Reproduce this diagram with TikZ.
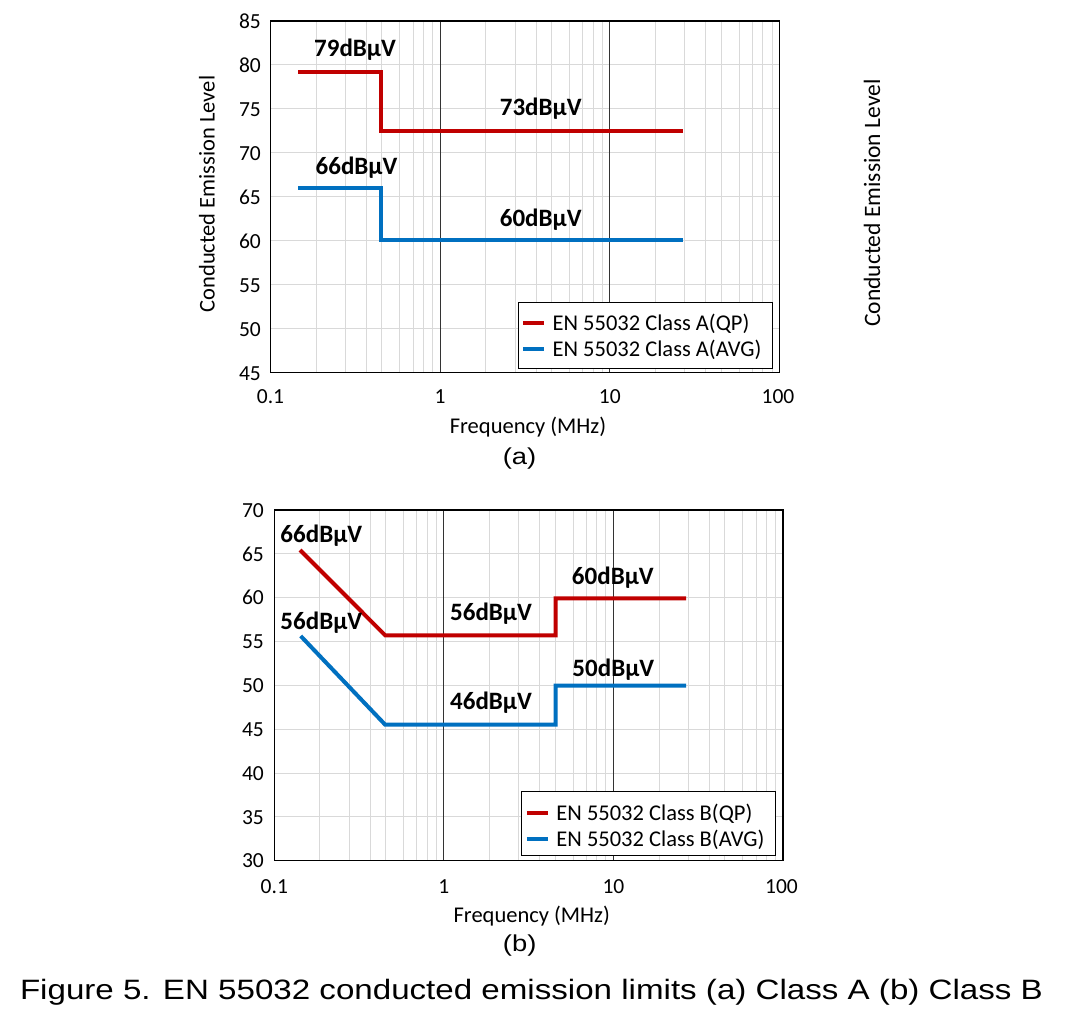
\documentclass[tikz,border=0pt]{standalone}
\usepackage{fontspec}
\usepackage{graphicx}
\setmainfont{Carlito}
\newfontfamily\arialf{Liberation Sans}
\definecolor{gridgray}{HTML}{D9D9D9}
\definecolor{qpred}{HTML}{C00000}
\definecolor{avgblue}{HTML}{0070C0}
\tikzset{
  gridline/.style={draw=gridgray, line width=1pt},
  majorline/.style={draw=black!80, line width=0.9pt},
  frameline/.style={draw=black, line width=1.4pt},
  qpline/.style={draw=qpred, line width=4pt},
  avgline/.style={draw=avgblue, line width=4pt},
  legbox/.style={draw=black, fill=white, line width=1pt},
  ticklab/.style={font=\fontsize{21.5}{24}\selectfont, inner sep=0pt},
  dlabel/.style={font=\fontsize{25}{28}\selectfont\bfseries, inner sep=0pt, anchor=base},
  legtext/.style={font=\fontsize{22.5}{26}\selectfont, inner sep=0pt, anchor=base west},
  axtitle/.style={font=\fontsize{22.5}{26}\selectfont, inner sep=0pt, anchor=base},
  sublab/.style={inner sep=0pt, anchor=base},
}
\begin{document}
\begin{tikzpicture}[x=1pt,y=-1pt]
\useasboundingbox[fill=white] (0,0) rectangle (1079,1031);

% ================= Chart (a) =================
% vertical minor grid
\foreach \d in {0,1,2}
  \foreach \f in {0.269,0.442,0.566,0.656,0.762,0.841,0.902,0.956}
    \draw[gridline] ({270.5+(\d+\f)*169.67},21) -- ++(0,351.7);
% horizontal grid
\foreach \v in {50,55,...,80}
  \draw[gridline] (270.5,{21+(85-\v)*8.7925}) -- (779.5,{21+(85-\v)*8.7925});
% major verticals
\draw[majorline] (440.17,21) -- (440.17,372.7);
\draw[majorline] (609.84,21) -- (609.84,372.7);
% data
\draw[qpline] (298.3,71.7) -- (381.2,71.7) -- (381.2,130.7) -- (682.5,130.7);
\draw[avgline] (298.3,187.7) -- (381.2,187.7) -- (381.2,240.3) -- (682.5,240.3);
% frame
\draw[frameline] (270.5,21) rectangle (779.5,372.7);
% legend
\draw[legbox] (518,302.5) rectangle (772,368);
\draw[qpline] (523,323.3) -- (544,323.3);
\draw[avgline] (523,349.3) -- (544,349.3);
\node[legtext] (legaqp) at (552.4,330.7) {EN 55032 Class A(QP)};
\node[legtext] (legaavg) at (552.4,356.7) {EN 55032 Class A(AVG)};
% data labels
\node[dlabel] (a79) at (355,56.7) {79dBµV};
\node[dlabel] (a73) at (540.7,115.3) {73dBµV};
\node[dlabel] (a66) at (356.5,174.3) {66dBµV};
\node[dlabel] (a60) at (540.7,226) {60dBµV};
% y tick labels
\foreach \v in {45,50,...,85}
  \node[ticklab, anchor=base east] (ya\v) at (261,{21+(85-\v)*8.7925+7.8}) {\v};
% x tick labels
\node[ticklab, anchor=base] (xa1) at (270.5,403.3) {0.1};
\node[ticklab, anchor=base] (xa2) at (440.17,403.3) {1};
\node[ticklab, anchor=base] (xa3) at (609.84,403.3) {10};
\node[ticklab, anchor=base] (xa4) at (778,403.3) {100};
% axis titles
\node[axtitle] (fa) at (528,433.3) {Frequency (MHz)};
\node[axtitle, rotate=90] (ceal) at (214.5,194) {Conducted Emission Level};
\node[axtitle, rotate=90, font=\fontsize{23.5}{26}\selectfont] (cear) at (880,203) {Conducted Emission Level};
\node[sublab] (suba) at (519.5,464.7) {\scalebox{1.19}[1]{\arialf\fontsize{23}{26}\selectfont (a)}};

% ================= Chart (b) =================
\foreach \d in {0,1,2}
  \foreach \f in {0.269,0.442,0.566,0.656,0.762,0.841,0.902,0.956}
    \draw[gridline] ({274.3+(\d+\f)*169.57},510) -- ++(0,350.7);
\foreach \v in {35,40,...,65}
  \draw[gridline] (274.3,{510+(70-\v)*8.7675}) -- (783,{510+(70-\v)*8.7675});
\draw[majorline] (443.87,510) -- (443.87,860.7);
\draw[majorline] (613.44,510) -- (613.44,860.7);
% data
\draw[qpline] (300,550) -- (385.2,635.3) -- (555.7,635.3) -- (555.7,598.3) -- (686,598.3);
\draw[avgline] (300.7,636) -- (385.2,724.7) -- (555.7,724.7) -- (555.7,685.7) -- (686,685.7);
% frame
\draw[frameline] (274.3,510) rectangle (783,860.7);
% legend
\draw[legbox] (521,791.7) rectangle (775.5,855);
\draw[qpline] (526.8,812.7) -- (547.8,812.7);
\draw[avgline] (526.8,838.7) -- (547.8,838.7);
\node[legtext] (legbqp) at (556.2,820.7) {EN 55032 Class B(QP)};
\node[legtext] (legbavg) at (556.2,846.7) {EN 55032 Class B(AVG)};
% data labels
\node[dlabel] (b66) at (321.3,542.7) {66dBµV};
\node[dlabel] (b56l) at (321.3,629.3) {56dBµV};
\node[dlabel] (b56) at (491,620) {56dBµV};
\node[dlabel] (b46) at (491,709.3) {46dBµV};
\node[dlabel] (b60) at (612.8,584.3) {60dBµV};
\node[dlabel] (b50) at (613.3,676) {50dBµV};
% y tick labels
\foreach \v in {30,35,...,70}
  \node[ticklab, anchor=base east] (yb\v) at (264,{510+(70-\v)*8.7675+7.2}) {\v};
% x tick labels
\node[ticklab, anchor=base] (xb1) at (274.3,893) {0.1};
\node[ticklab, anchor=base] (xb2) at (443.87,893) {1};
\node[ticklab, anchor=base] (xb3) at (613.44,893) {10};
\node[ticklab, anchor=base] (xb4) at (781.5,893) {100};
\node[axtitle] (fb) at (531.8,922.7) {Frequency (MHz)};
\node[sublab] (subb) at (519.7,951.8) {\scalebox{1.19}[1]{\arialf\fontsize{23}{26}\selectfont (b)}};

% caption
\node[inner sep=0pt, anchor=base west] (caption) at (19.8,999.3)
  {\scalebox{1.183}[1]{\arialf\fontsize{28}{32}\selectfont Figure 5. EN 55032 conducted emission limits (a) Class A (b) Class B}};
\end{tikzpicture}
\end{document}
